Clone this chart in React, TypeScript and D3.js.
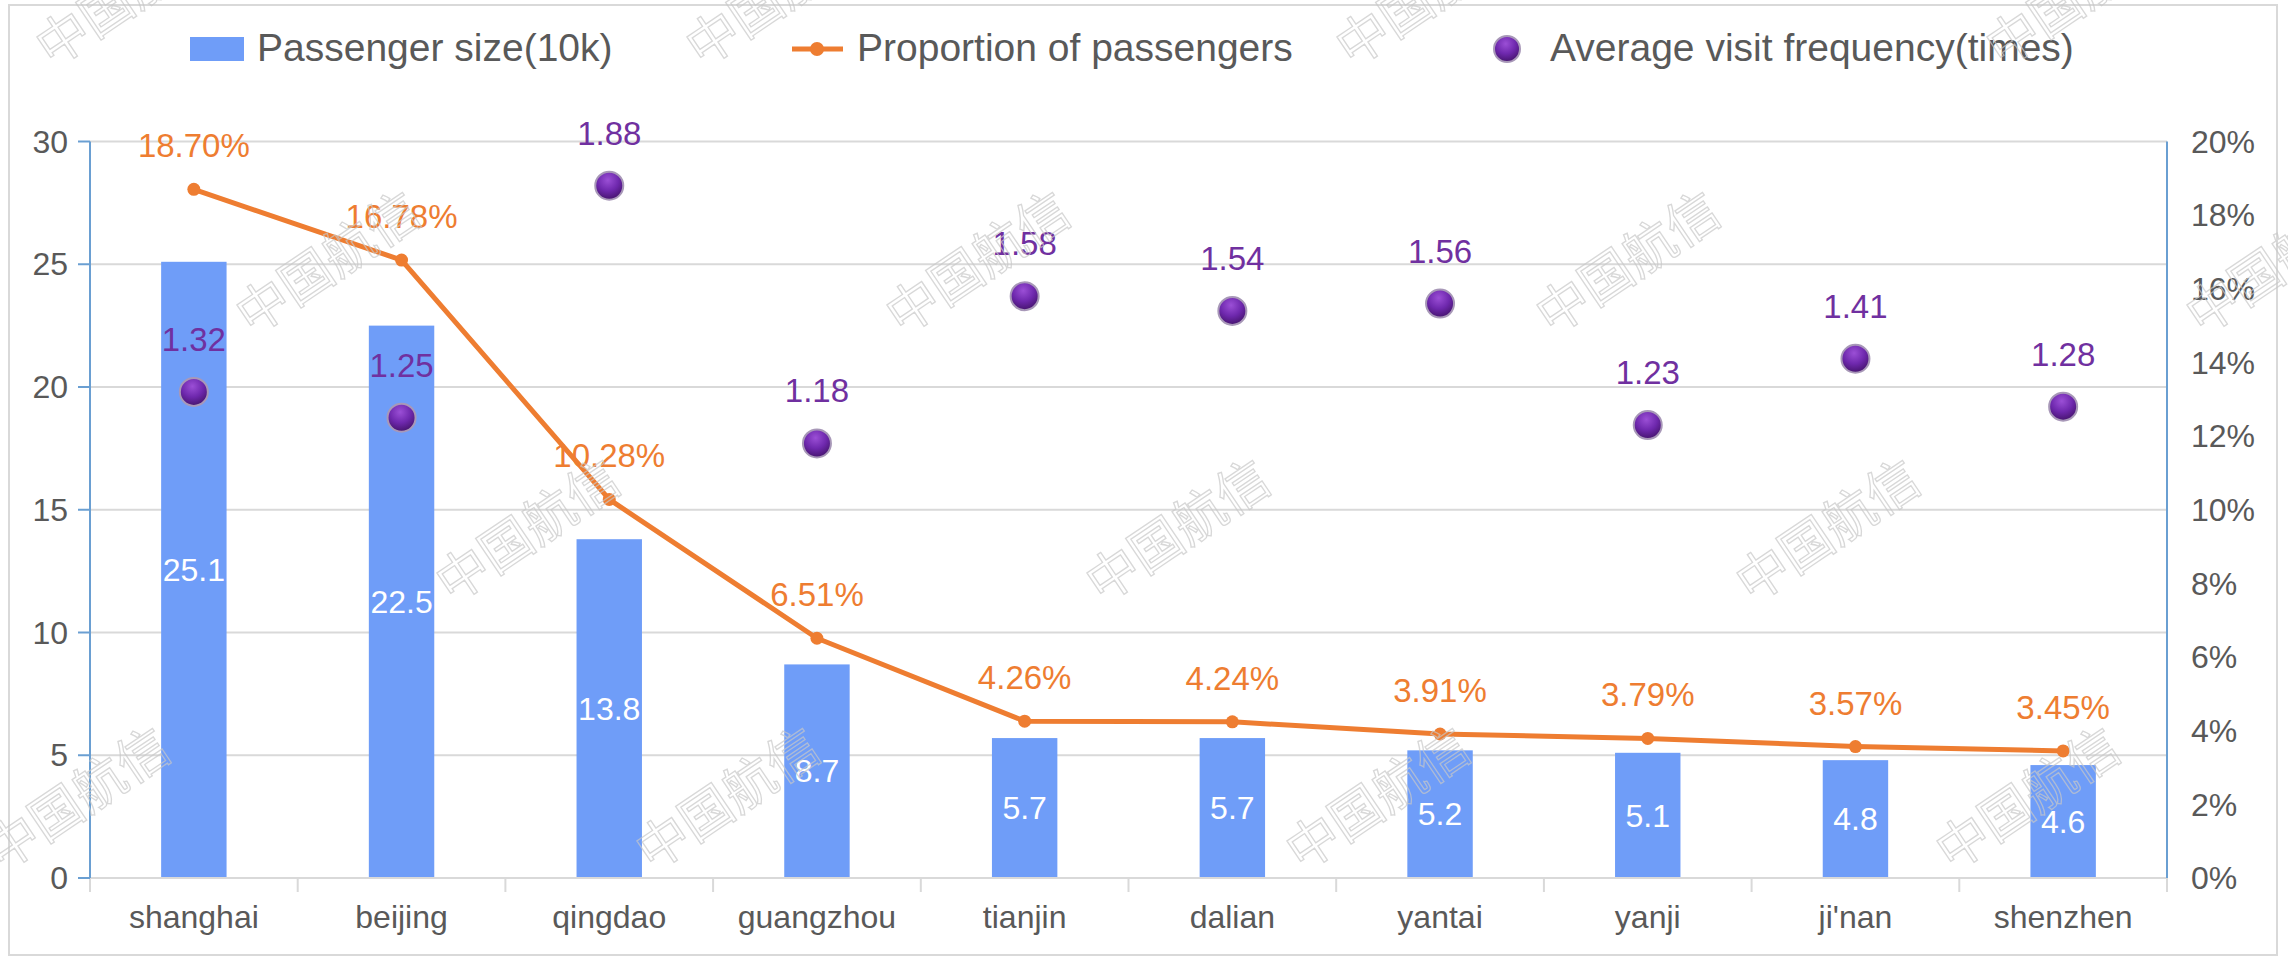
import React from "react";
import * as d3 from "d3";

const categories = ["shanghai", "beijing", "qingdao", "guangzhou", "tianjin", "dalian", "yantai", "yanji", "ji'nan", "shenzhen"];
const passengerSize = [25.1, 22.5, 13.8, 8.7, 5.7, 5.7, 5.2, 5.1, 4.8, 4.6];
const proportion = [18.70, 16.78, 10.28, 6.51, 4.26, 4.24, 3.91, 3.79, 3.57, 3.45];
const frequency = [1.32, 1.25, 1.88, 1.18, 1.58, 1.54, 1.56, 1.23, 1.41, 1.28];
const leftTicks = [0, 5, 10, 15, 20, 25, 30];
const rightTicks = [0, 2, 4, 6, 8, 10, 12, 14, 16, 18, 20];
const legendLabels = ["Passenger size(10k)", "Proportion of passengers", "Average visit frequency(times)"];
const watermarkText = "中国航信";

const W = 2288;
const H = 957;
const M = { left: 90, right: 2167, top: 141.5, bottom: 878 };

const BAR = "#6f9df8";
const ORANGE = "#ee7d31";
const PURPLE = "#7030a0";
const GRID = "#d9d9d9";
const AXIS_BLUE = "#6a9fd2";
const TXT = "#595959";
const FONT = "'Liberation Sans', Arial, Helvetica, sans-serif";

export default function App() {
  const x = d3.scaleBand<string>().domain(categories).range([M.left, M.right]).paddingInner(0).paddingOuter(0);
  const yL = d3.scaleLinear().domain([0, 30]).range([M.bottom, M.top]);
  const yR = d3.scaleLinear().domain([0, 20]).range([M.bottom, M.top]);
  const yF = d3.scaleLinear().domain([0, 2]).range([M.bottom, M.top]);
  const bw = x.bandwidth();
  const barW = bw * 0.315;
  const cx = (c: string) => (x(c) as number) + bw / 2;

  const line = d3
    .line<number>()
    .x((_, i) => cx(categories[i]))
    .y((d) => yR(d));

  // watermark grid
  const marks: { x: number; y: number }[] = [];
  for (let k = 0; k < 4; k++) {
    const y0 = -5 + 268 * k;
    const xoff = 128 + 200 * k;
    for (let j = -1; j < 5; j++) {
      marks.push({ x: xoff + 650 * j, y: y0 });
    }
  }

  const boundaries = d3.range(categories.length + 1).map((i) => M.left + i * bw);

  return (
    <svg
      width={W}
      height={H}
      style={{ position: "fixed", left: 0, top: 0, display: "block", background: "#fff" }}
      fontFamily={FONT}
    >
      <defs>
        <radialGradient id="dotGrad" cx="45%" cy="30%" r="70%">
          <stop offset="0%" stopColor="#9b4fd6" />
          <stop offset="55%" stopColor="#6e28ad" />
          <stop offset="100%" stopColor="#46146e" />
        </radialGradient>
      </defs>
      <rect x={0} y={0} width={W} height={H} fill="#fff" />
      <rect x={9} y={5} width={2268} height={950} fill="#fff" stroke={GRID} strokeWidth={2} />

      {/* gridlines */}
      {leftTicks.slice(1).map((t) => (
        <line key={"g" + t} x1={M.left} x2={M.right} y1={yL(t)} y2={yL(t)} stroke={GRID} strokeWidth={2} />
      ))}

      {/* bars */}
      {categories.map((c, i) => (
        <rect
          key={"b" + c}
          x={cx(c) - barW / 2}
          y={yL(passengerSize[i])}
          width={barW}
          height={yL(0) - yL(passengerSize[i])}
          fill={BAR}
        />
      ))}

      {/* x axis */}
      <line x1={M.left} x2={M.right} y1={M.bottom} y2={M.bottom} stroke={GRID} strokeWidth={2} />
      {boundaries.map((b, i) => (
        <line key={"xt" + i} x1={b} x2={b} y1={M.bottom} y2={M.bottom + 14} stroke={GRID} strokeWidth={2} />
      ))}
      {categories.map((c) => (
        <text key={"xl" + c} x={cx(c)} y={928} fontSize={32} fill={TXT} textAnchor="middle">
          {c}
        </text>
      ))}

      {/* left axis */}
      <line x1={M.left} x2={M.left} y1={M.top} y2={M.bottom} stroke={AXIS_BLUE} strokeWidth={2} />
      {leftTicks.map((t) => (
        <g key={"lt" + t}>
          <line x1={M.left - 12} x2={M.left} y1={yL(t)} y2={yL(t)} stroke={AXIS_BLUE} strokeWidth={2} />
          <text x={68} y={yL(t)} dy="0.35em" fontSize={32} fill={TXT} textAnchor="end">
            {t}
          </text>
        </g>
      ))}

      {/* right axis */}
      <line x1={M.right} x2={M.right} y1={M.top} y2={M.bottom} stroke={AXIS_BLUE} strokeWidth={2} />
      {rightTicks.map((t) => (
        <text key={"rt" + t} x={2191} y={yR(t)} dy="0.35em" fontSize={32} fill={TXT} textAnchor="start">
          {t + "%"}
        </text>
      ))}

      {/* bar labels */}
      {categories.map((c, i) => (
        <text
          key={"bl" + c}
          x={cx(c)}
          y={(yL(passengerSize[i]) + yL(0)) / 2}
          dy="0.35em"
          fontSize={32}
          fill="#fff"
          textAnchor="middle"
        >
          {passengerSize[i].toFixed(1)}
        </text>
      ))}

      {/* line */}
      <path d={line(proportion) || ""} fill="none" stroke={ORANGE} strokeWidth={5} strokeLinejoin="round" />
      {categories.map((c, i) => (
        <circle key={"lp" + c} cx={cx(c)} cy={yR(proportion[i])} r={6.5} fill={ORANGE} />
      ))}
      {categories.map((c, i) => (
        <text key={"ll" + c} x={cx(c)} y={yR(proportion[i]) - 32} fontSize={33} fill={ORANGE} textAnchor="middle">
          {proportion[i].toFixed(2) + "%"}
        </text>
      ))}

      {/* scatter */}
      {categories.map((c, i) => (
        <circle
          key={"sp" + c}
          cx={cx(c)}
          cy={yF(frequency[i])}
          r={14}
          fill="url(#dotGrad)"
          stroke="#a898b8"
          strokeWidth={2}
        />
      ))}
      {categories.map((c, i) => (
        <text key={"sl" + c} x={cx(c)} y={yF(frequency[i]) - 41} fontSize={33} fill={PURPLE} textAnchor="middle">
          {frequency[i].toFixed(2)}
        </text>
      ))}

      {/* legend */}
      <rect x={190} y={37} width={54} height={24} fill={BAR} />
      <text x={257} y={61} fontSize={39} fill={TXT}>
        {legendLabels[0]}
      </text>
      <line x1={792} x2={843} y1={49} y2={49} stroke={ORANGE} strokeWidth={5} />
      <circle cx={817} cy={49} r={7} fill={ORANGE} />
      <text x={857} y={61} fontSize={39} fill={TXT}>
        {legendLabels[1]}
      </text>
      <circle cx={1507} cy={49} r={13} fill="url(#dotGrad)" stroke="#a898b8" strokeWidth={2} />
      <text x={1550} y={61} fontSize={39} fill={TXT}>
        {legendLabels[2]}
      </text>

      {/* watermarks */}
      {marks.map((m, i) => (
        <text
          key={"wm" + i}
          x={0}
          y={0}
          transform={`translate(${m.x},${m.y}) rotate(-34)`}
          fontSize={52}
          fontFamily="'Noto Sans CJK SC', sans-serif"
          textAnchor="middle"
          dy="0.35em"
          fill="none"
          stroke="#c8c8c8"
          strokeWidth={1.3}
          opacity={0.7}
        >
          {watermarkText}
        </text>
      ))}
    </svg>
  );
}
